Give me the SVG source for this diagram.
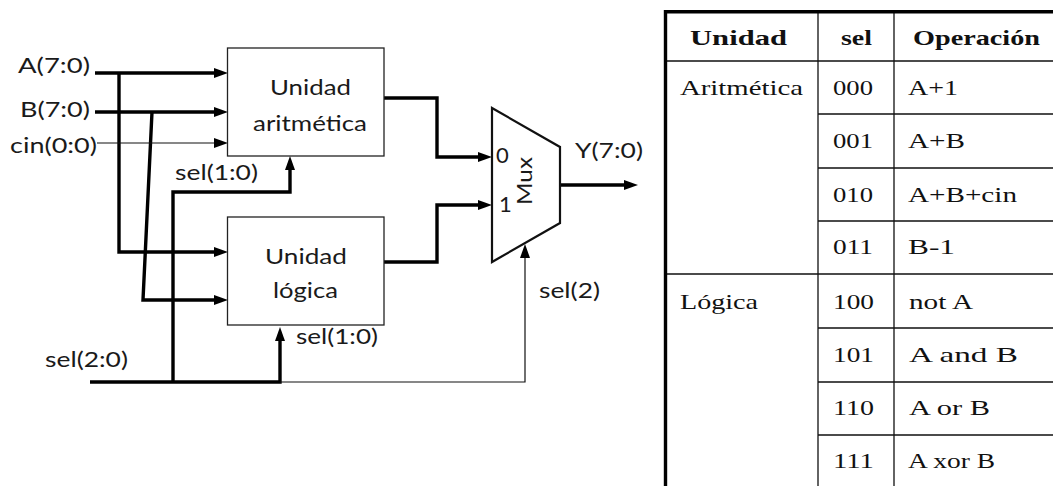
<svg xmlns="http://www.w3.org/2000/svg" width="1053" height="486" viewBox="0 0 1053 486">
<style>
.bg{fill:#fff}
.box{fill:#fff;stroke:#222;stroke-width:1.3}
.mux{fill:#fff;stroke:#111;stroke-width:2.2;stroke-linejoin:miter}
.thick{fill:none;stroke:#000;stroke-width:3.4;stroke-linejoin:miter}
.thin{fill:none;stroke:#111;stroke-width:1.2}
.lbl{font-family:Lato,"Open Sans","Liberation Sans",sans-serif;font-size:22px;fill:#1a1a1a}
.tt{font-family:"Liberation Serif","Times New Roman",serif;font-size:22px;fill:#111}
.th{font-family:"Liberation Serif","Times New Roman",serif;font-size:22px;font-weight:bold;fill:#111}
.grid{stroke:#111;stroke-width:1.3;fill:none}
.border{stroke:#000;stroke-width:3.4;fill:none}
</style>
<defs>
<marker id="arr" markerUnits="userSpaceOnUse" markerWidth="14" markerHeight="10" viewBox="0 0 14 10" refX="4" refY="5" orient="auto">
<path d="M0,0 L14,5 L0,10 z" fill="#000"/>
</marker>
</defs>
<rect class="bg" x="0" y="0" width="1053" height="486"/>

<g id="connectors">
<path class="thick" d="M95,73 H218" marker-end="url(#arr)"/>
<path class="thick" d="M119,73 V252 H218" marker-end="url(#arr)"/>
<path class="thick" d="M95,112 H218" marker-end="url(#arr)"/>
<path class="thick" d="M152,112 L143,300 H218" marker-end="url(#arr)"/>
<path class="thin" d="M97,143 H218" marker-end="url(#arr)"/>
<path class="thick" d="M173,382 V192 H290 V166" marker-end="url(#arr)"/>
<path class="thick" d="M90,382 H280 V337" marker-end="url(#arr)"/>
<path class="thin" d="M280,382 H525 V254" marker-end="url(#arr)"/>
<path class="thick" d="M384,98 H437 V157 H482" marker-end="url(#arr)"/>
<path class="thick" d="M384,262 H437 V205 H482" marker-end="url(#arr)"/>
<path class="thick" d="M560,185 H628" marker-end="url(#arr)"/>
</g>

<g id="inputs">
<text class="lbl" x="18" y="73" textLength="72" lengthAdjust="spacingAndGlyphs">A(7:0)</text>
<text class="lbl" x="20" y="117" textLength="70" lengthAdjust="spacingAndGlyphs">B(7:0)</text>
<text class="lbl" x="10" y="153" textLength="87" lengthAdjust="spacingAndGlyphs">cin(0:0)</text>
<text class="lbl" x="45" y="367" textLength="83" lengthAdjust="spacingAndGlyphs">sel(2:0)</text>
<text class="lbl" x="175" y="180" textLength="83" lengthAdjust="spacingAndGlyphs">sel(1:0)</text>
<text class="lbl" x="296" y="344" textLength="82" lengthAdjust="spacingAndGlyphs">sel(1:0)</text>
<text class="lbl" x="539" y="298" textLength="61" lengthAdjust="spacingAndGlyphs">sel(2)</text>
<text class="lbl" x="575" y="158" textLength="68" lengthAdjust="spacingAndGlyphs">Y(7:0)</text>
</g>

<g id="unit-arith">
<rect class="box" x="227.5" y="48" width="156.5" height="108"/>
<text class="lbl" x="270" y="95" textLength="81" lengthAdjust="spacingAndGlyphs">Unidad</text>
<text class="lbl" x="253" y="131" textLength="114" lengthAdjust="spacingAndGlyphs">aritmética</text>
</g>

<g id="unit-logic">
<rect class="box" x="227.5" y="217" width="156.5" height="108"/>
<text class="lbl" x="265" y="264" textLength="82" lengthAdjust="spacingAndGlyphs">Unidad</text>
<text class="lbl" x="273" y="298" textLength="65" lengthAdjust="spacingAndGlyphs">lógica</text>
</g>

<g id="mux">
<polygon class="mux" points="492,108 560,147 560,223 492,262"/>
<text class="lbl" x="496" y="163">0</text>
<text class="lbl" x="499" y="212">1</text>
<text class="lbl" transform="translate(532,181) rotate(-90)" text-anchor="middle" textLength="48" lengthAdjust="spacingAndGlyphs">Mux</text>
</g>

<g id="table">
<path class="grid" d="M665,61 H1053 M665,274 H1053 M818,114 H1053 M818,168 H1053 M818,221 H1053 M818,328 H1053 M818,382 H1053 M818,435 H1053 M818,11 V486 M894,11 V486"/>
<path class="border" d="M665.5,486 V11.7 H1053"/>
<text class="th" x="690" y="45" textLength="97" lengthAdjust="spacingAndGlyphs">Unidad</text>
<text class="th" x="841" y="45" textLength="31" lengthAdjust="spacingAndGlyphs">sel</text>
<text class="th" x="913" y="45" textLength="127" lengthAdjust="spacingAndGlyphs">Operación</text>
<text class="tt" x="680" y="95" textLength="123" lengthAdjust="spacingAndGlyphs">Aritmética</text>
<text class="tt" x="680" y="309" textLength="78" lengthAdjust="spacingAndGlyphs">Lógica</text>
<text class="tt" x="833" y="95" textLength="40" lengthAdjust="spacingAndGlyphs">000</text>
<text class="tt" x="833" y="148" textLength="40" lengthAdjust="spacingAndGlyphs">001</text>
<text class="tt" x="833" y="202" textLength="40" lengthAdjust="spacingAndGlyphs">010</text>
<text class="tt" x="833" y="254" textLength="40" lengthAdjust="spacingAndGlyphs">011</text>
<text class="tt" x="833" y="309" textLength="41" lengthAdjust="spacingAndGlyphs">100</text>
<text class="tt" x="833" y="362" textLength="41" lengthAdjust="spacingAndGlyphs">101</text>
<text class="tt" x="833" y="415" textLength="41" lengthAdjust="spacingAndGlyphs">110</text>
<text class="tt" x="833" y="468" textLength="41" lengthAdjust="spacingAndGlyphs">111</text>
<text class="tt" x="908" y="95" textLength="50" lengthAdjust="spacingAndGlyphs">A+1</text>
<text class="tt" x="908" y="148" textLength="57" lengthAdjust="spacingAndGlyphs">A+B</text>
<text class="tt" x="908" y="202" textLength="109" lengthAdjust="spacingAndGlyphs">A+B+cin</text>
<text class="tt" x="908" y="254" textLength="47" lengthAdjust="spacingAndGlyphs">B-1</text>
<text class="tt" x="909" y="309" textLength="64" lengthAdjust="spacingAndGlyphs">not A</text>
<text class="tt" x="909" y="362" textLength="109" lengthAdjust="spacingAndGlyphs">A and B</text>
<text class="tt" x="909" y="415" textLength="81" lengthAdjust="spacingAndGlyphs">A or B</text>
<text class="tt" x="908" y="468" textLength="87" lengthAdjust="spacingAndGlyphs">A xor B</text>
</g>
</svg>
